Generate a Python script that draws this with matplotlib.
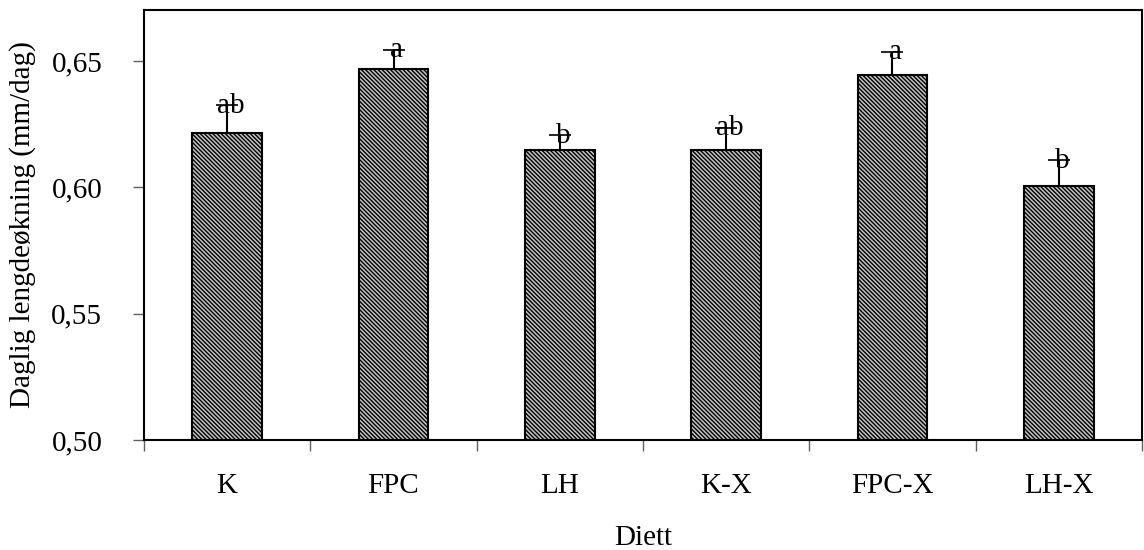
import matplotlib
matplotlib.use("Agg")
import matplotlib.pyplot as plt
import numpy as np

categories = ["K", "FPC", "LH", "K-X", "FPC-X", "LH-X"]
values = [0.6215, 0.6470, 0.6148, 0.6148, 0.6446, 0.6005]
errors = [0.0110, 0.0074, 0.0058, 0.0088, 0.0090, 0.0102]
letters = ["ab", "a", "b", "ab", "a", "b"]
yticks = [0.50, 0.55, 0.60, 0.65]
ytick_labels = ["0,50", "0,55", "0,60", "0,65"]

plt.rcParams['font.family'] = ['Liberation Serif', 'DejaVu Serif']
plt.rcParams['hatch.linewidth'] = 1.0
plt.rcParams['hatch.color'] = '#383838'

fig = plt.figure(figsize=(11.44, 5.5), dpi=100)
ax = fig.add_axes([144/1144, 110/550, 998/1144, 430/550])

x = np.arange(len(categories))
bars = ax.bar(x, values, width=0.42, color='#c4c4c4', edgecolor='black',
              linewidth=1.5, hatch='\\\\\\\\\\\\\\\\', zorder=2)
ax.errorbar(x, values, yerr=[np.zeros(len(values)), errors], fmt='none',
            ecolor='black', elinewidth=1.5, capsize=8, capthick=1.2, zorder=3)
for xi, v, e, t in zip(x, values, errors, letters):
    ax.text(xi + 0.02, v + e - 0.0002, t, ha='center', va='center',
            fontsize=21, zorder=4)

ax.set_xlim(-0.5, len(categories) - 0.5)
ax.set_ylim(0.5, 0.6702)
ax.set_yticks(yticks)
ax.set_yticklabels(ytick_labels, fontsize=21)
ax.set_xticks(np.arange(len(categories) + 1) - 0.5)
ax.set_xticklabels([])
ax.set_xticks(x, minor=True)
ax.set_xticklabels(categories, minor=True, fontsize=21)
ax.tick_params(axis='x', which='major', length=8, width=1, color='#606060', direction='out')
ax.tick_params(axis='x', which='minor', length=0, pad=24)
ax.tick_params(axis='y', length=8, width=1, color='#606060', direction='out', pad=22)
for s in ax.spines.values():
    s.set_linewidth(1.5)

ax.set_xlabel("Diett", fontsize=21)
ax.xaxis.set_label_coords(0.5, -0.197)
ax.set_ylabel("Daglig lengdeøkning (mm/dag)", fontsize=21)
ax.yaxis.set_label_coords(-0.108, 0.5)

fig.savefig("out.png", dpi=100)
